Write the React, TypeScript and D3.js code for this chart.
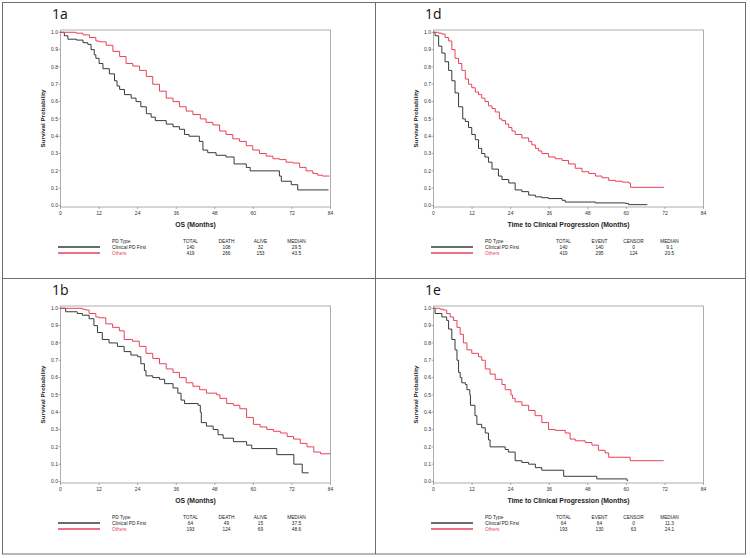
import React from "react";
import * as d3 from "d3";

// tick values shared by all four plots
const monthTicks = [0, 12, 24, 36, 48, 60, 72, 84];
const probTicks = [0, 0.1, 0.2, 0.3, 0.4, 0.5, 0.6, 0.7, 0.8, 0.9, 1.0];

const groups = ["Clinical PD First", "Others"];
const osHeaders = ["TOTAL", "DEATH", "ALIVE", "MEDIAN"];
const ttpHeaders = ["TOTAL", "EVENT", "CENSOR", "MEDIAN"];

// summary tables under each plot
const stats1a = [["140", "108", "32", "29.5"], ["419", "266", "153", "43.5"]];
const stats1d = [["140", "140", "0", "9.1"], ["419", "295", "124", "20.5"]];
const stats1b = [["64", "49", "15", "37.5"], ["193", "124", "69", "48.6"]];
const stats1e = [["64", "64", "0", "11.3"], ["193", "130", "63", "24.1"]];

// KM curves, [month, survival]
const os1aFirst: [number, number][] = [
  [0, 1], [1.2, 0.98], [2.3, 0.96], [5, 0.955], [7, 0.94], [8.5, 0.93], [9.5, 0.9], [10.5, 0.87],
  [11, 0.85], [12, 0.82], [13.2, 0.79], [15.2, 0.76], [16.8, 0.72], [17.6, 0.69], [18.4, 0.67],
  [19.9, 0.64], [22, 0.62], [23.5, 0.6], [25, 0.57], [26.7, 0.53], [28.2, 0.51], [29.5, 0.49],
  [32.9, 0.47], [35, 0.455], [37, 0.44], [38.6, 0.41], [40, 0.4], [43.2, 0.37], [44.3, 0.32],
  [45.8, 0.305], [48.4, 0.29], [51.5, 0.28], [54, 0.24], [57.8, 0.22], [59, 0.2], [68.1, 0.17],
  [68.7, 0.14], [71.8, 0.12], [73.8, 0.09], [83.4, 0.09],
];
const os1aOthers: [number, number][] = [
  [0, 1], [4.9, 0.995], [7, 0.985], [9, 0.97], [11, 0.95], [12, 0.945], [14.2, 0.925], [16.3, 0.89],
  [18.4, 0.86], [20.4, 0.82], [22.5, 0.805], [24.6, 0.78], [26.7, 0.745], [28.7, 0.7], [30.8, 0.66],
  [32.9, 0.62], [35, 0.6], [37, 0.57], [39.1, 0.545], [41.2, 0.525], [43.5, 0.5], [45.3, 0.48],
  [47.4, 0.465], [49.5, 0.43], [51.5, 0.41], [53.6, 0.385], [55.7, 0.37], [57.8, 0.345],
  [59.8, 0.32], [61.9, 0.3], [64, 0.285], [66.1, 0.27], [68.1, 0.265], [70.2, 0.25], [72.3, 0.245],
  [74.4, 0.22], [76.4, 0.2], [78.5, 0.185], [80, 0.175], [81.5, 0.17], [83.7, 0.17],
];
const ttp1dFirst: [number, number][] = [
  [0, 1], [0.5, 0.98], [1.6, 0.92], [2.6, 0.88], [3.6, 0.83], [4.7, 0.78], [5.7, 0.72], [6.7, 0.65],
  [7.8, 0.57], [9.1, 0.5], [9.9, 0.485], [10.9, 0.45], [11.9, 0.41], [13, 0.38], [14, 0.33],
  [15, 0.3], [16, 0.28], [17.1, 0.25], [18.2, 0.21], [20.2, 0.17], [21.3, 0.15], [23.4, 0.13],
  [25.4, 0.09], [27.5, 0.08], [29.6, 0.06], [31.7, 0.05], [33.7, 0.045], [35.8, 0.04], [40, 0.03],
  [41, 0.02], [50.4, 0.015], [59.7, 0.012], [60.7, 0.005], [66.5, 0.005],
];
const ttp1dOthers: [number, number][] = [
  [0, 1], [1.6, 0.995], [2.6, 0.99], [3.6, 0.97], [4.7, 0.95], [5.7, 0.9], [6.7, 0.85], [7.8, 0.82],
  [8.8, 0.78], [9.9, 0.73], [10.9, 0.7], [11.9, 0.68], [13, 0.655], [14, 0.64], [15, 0.62], [16, 0.6],
  [17.1, 0.575], [18.2, 0.56], [19.2, 0.54], [20.5, 0.5], [21.3, 0.49], [22.4, 0.47], [23.4, 0.45],
  [24.4, 0.43], [25.4, 0.41], [27.5, 0.39], [29.6, 0.37], [30.6, 0.35], [31.7, 0.33], [32.7, 0.315],
  [33.7, 0.3], [35.8, 0.28], [37.9, 0.27], [40, 0.26], [42, 0.24], [44.1, 0.215], [46.2, 0.195],
  [48.3, 0.185], [50.4, 0.17], [52.4, 0.16], [54.5, 0.145], [56.6, 0.14], [58.7, 0.135],
  [60.7, 0.13], [61.3, 0.105], [71.7, 0.105],
];
const os1bFirst: [number, number][] = [
  [0, 1], [1.6, 0.98], [5.2, 0.97], [6.8, 0.96], [8.9, 0.94], [10.4, 0.9], [11.5, 0.86], [13, 0.82],
  [15.1, 0.8], [17.7, 0.78], [19.8, 0.75], [21.9, 0.73], [24, 0.72], [25, 0.68], [26.1, 0.64],
  [26.6, 0.61], [28.7, 0.6], [30.8, 0.59], [32.4, 0.565], [35, 0.54], [36.5, 0.51], [37.5, 0.47],
  [38.6, 0.45], [42.8, 0.44], [43.5, 0.4], [43.8, 0.34], [45.4, 0.32], [47.5, 0.3], [49, 0.27],
  [50.6, 0.25], [53.8, 0.23], [57.9, 0.21], [59.5, 0.19], [67.3, 0.155], [72.6, 0.1], [75.2, 0.05],
  [77.2, 0.05],
];
const os1bOthers: [number, number][] = [
  [0, 1], [6.8, 0.995], [7.8, 0.99], [8.9, 0.97], [11, 0.95], [12, 0.945], [14.1, 0.91], [16.2, 0.89],
  [18.3, 0.87], [19.8, 0.82], [22.4, 0.81], [24.5, 0.78], [26.6, 0.74], [28.7, 0.71], [30.8, 0.68],
  [32.9, 0.65], [35, 0.63], [37, 0.6], [39.1, 0.57], [41.2, 0.55], [43.3, 0.53], [45.4, 0.51],
  [48.6, 0.5], [49.6, 0.48], [51.7, 0.45], [53.8, 0.44], [55.8, 0.42], [57.9, 0.37], [60, 0.33],
  [62.1, 0.315], [64.2, 0.3], [66.3, 0.29], [68.4, 0.28], [70.5, 0.26], [72.5, 0.245], [74.6, 0.22],
  [76.7, 0.2], [78.8, 0.17], [80.9, 0.16], [84, 0.16],
];
const ttp1eFirst: [number, number][] = [
  [0, 1], [0.5, 0.97], [2.6, 0.95], [4.1, 0.93], [4.7, 0.88], [5.7, 0.82], [6.7, 0.76], [7.3, 0.7],
  [7.8, 0.63], [8.3, 0.6], [8.8, 0.57], [9.9, 0.56], [10.4, 0.53], [11.3, 0.5], [11.5, 0.44],
  [12.9, 0.38], [13.5, 0.33], [15, 0.31], [16.1, 0.28], [17.1, 0.24], [17.6, 0.2], [22.3, 0.185],
  [23.3, 0.17], [25.4, 0.12], [27.5, 0.11], [29.6, 0.1], [31.7, 0.08], [33.7, 0.065], [40.5, 0.03],
  [50.8, 0.015], [60.2, 0.005], [60.5, 0.005],
];
const ttp1eOthers: [number, number][] = [
  [0, 1], [2, 0.995], [3.1, 0.99], [4.1, 0.97], [5.2, 0.95], [6.2, 0.93], [7.3, 0.89], [8.3, 0.85],
  [9.3, 0.8], [10.4, 0.76], [11.9, 0.74], [14, 0.72], [15, 0.7], [16.1, 0.65], [17.6, 0.62],
  [19.2, 0.59], [21.3, 0.56], [22.3, 0.53], [24.1, 0.5], [24.6, 0.48], [25.4, 0.46], [27.5, 0.44],
  [29.6, 0.41], [31.6, 0.38], [33.7, 0.34], [35.8, 0.3], [37.9, 0.295], [41, 0.28], [42.5, 0.245],
  [44.1, 0.235], [47.2, 0.225], [49.3, 0.21], [51.3, 0.18], [53.4, 0.165], [54.5, 0.14],
  [61.2, 0.12], [71.6, 0.12],
];

const BLACK = "#343b3b";
const RED = "#e8425a";
const FONT = "'Liberation Sans', Arial, sans-serif";

function Panel({ x0, y0, label, xTitle, headers, stats, first, others }: any) {
  const x = d3.scaleLinear().domain([0, 84]).range([x0 + 58.5, x0 + 328.5]);
  const y = d3.scaleLinear().domain([0, 1]).range([y0 + 203.5, y0 + 30.3]);
  const line = d3
    .line<[number, number]>()
    .x((d) => x(d[0]))
    .y((d) => y(d[1]))
    .curve(d3.curveStepAfter);
  const fmt = d3.format(".1f");
  const top = y0 + 28;
  const bottom = y0 + 205;
  const colX = [188.5, 224.5, 258.5, 294.5].map((c) => x0 + c);

  return (
    <g fontFamily={FONT}>
      <text x={x0 + 50} y={y0 + 16.5} fontSize={14} fontFamily="'Open Sans', sans-serif" fill="#111">
        {label}
      </text>
      <rect x={x(0)} y={top} width={x(84) - x(0)} height={bottom - top} fill="none" stroke="#9a9a9a" strokeWidth={0.8} />
      {monthTicks.map((t) => (
        <g key={t}>
          <line x1={x(t)} x2={x(t)} y1={bottom} y2={bottom + 2} stroke="#777" strokeWidth={0.6} />
          <text x={x(t)} y={y0 + 212.5} fontSize={5} textAnchor="middle" fill="#333">{t}</text>
        </g>
      ))}
      {probTicks.map((t) => (
        <g key={t}>
          <line x1={x(0) - 2} x2={x(0)} y1={y(t)} y2={y(t)} stroke="#777" strokeWidth={0.6} />
          <text x={x(0) - 2.5} y={y(t) + 1.7} fontSize={5} textAnchor="end" fill="#333">{fmt(t)}</text>
        </g>
      ))}
      <text x={(x(0) + x(84)) / 2} y={y0 + 224.5} fontSize={6.8} fontWeight="bold" textAnchor="middle" fill="#222">
        {xTitle}
      </text>
      <text
        transform={`translate(${x0 + 43},${(top + bottom) / 2}) rotate(-90)`}
        fontSize={6.2}
        fontWeight="bold"
        textAnchor="middle"
        fill="#222"
      >
        Survival Probability
      </text>
      <path d={line(first) ?? ""} fill="none" stroke={BLACK} strokeWidth={1} />
      <path d={line(others) ?? ""} fill="none" stroke={RED} strokeWidth={1} />

      {/* legend table */}
      <line x1={x0 + 56} x2={x0 + 98} y1={y0 + 245} y2={y0 + 245} stroke={BLACK} strokeWidth={1.6} />
      <line x1={x0 + 56} x2={x0 + 98} y1={y0 + 251} y2={y0 + 251} stroke={RED} strokeWidth={1.6} />
      <g fontSize={4.8} fill="#222">
        <text x={x0 + 110} y={y0 + 240.5}>PD Type</text>
        {headers.map((h: string, i: number) => (
          <text key={h} x={colX[i]} y={y0 + 240.5} textAnchor="middle">{h}</text>
        ))}
        {groups.map((g, r) => (
          <g key={g} fill={r === 0 ? "#222" : RED}>
            <text x={x0 + 110} y={y0 + 247.3 + r * 5.8}>{g}</text>
            {stats[r].map((v: string, i: number) => (
              <text key={i} x={colX[i]} y={y0 + 247.3 + r * 5.8} textAnchor="middle" fill="#222">{v}</text>
            ))}
          </g>
        ))}
      </g>
    </g>
  );
}

export default function App() {
  return (
    <svg width={750} height={558} style={{ position: "absolute", left: 0, top: 0, background: "#fff" }}>
      <rect x={0} y={0} width={750} height={558} fill="#fff" />
      <Panel x0={2} y0={2} label="1a" xTitle="OS (Months)" headers={osHeaders} stats={stats1a} first={os1aFirst} others={os1aOthers} />
      <Panel x0={375} y0={2} label="1d" xTitle="Time to Clinical Progression (Months)" headers={ttpHeaders} stats={stats1d} first={ttp1dFirst} others={ttp1dOthers} />
      <Panel x0={2} y0={278} label="1b" xTitle="OS (Months)" headers={osHeaders} stats={stats1b} first={os1bFirst} others={os1bOthers} />
      <Panel x0={375} y0={278} label="1e" xTitle="Time to Clinical Progression (Months)" headers={ttpHeaders} stats={stats1e} first={ttp1eFirst} others={ttp1eOthers} />
      {/* figure frame and dividers */}
      <rect x={2.5} y={2.5} width={743} height={551.5} fill="none" stroke="#6e6e6e" strokeWidth={1} />
      <line x1={375.5} x2={375.5} y1={2.5} y2={554} stroke="#6e6e6e" strokeWidth={1} />
      <line x1={2.5} x2={745.5} y1={278.5} y2={278.5} stroke="#6e6e6e" strokeWidth={1} />
    </svg>
  );
}
